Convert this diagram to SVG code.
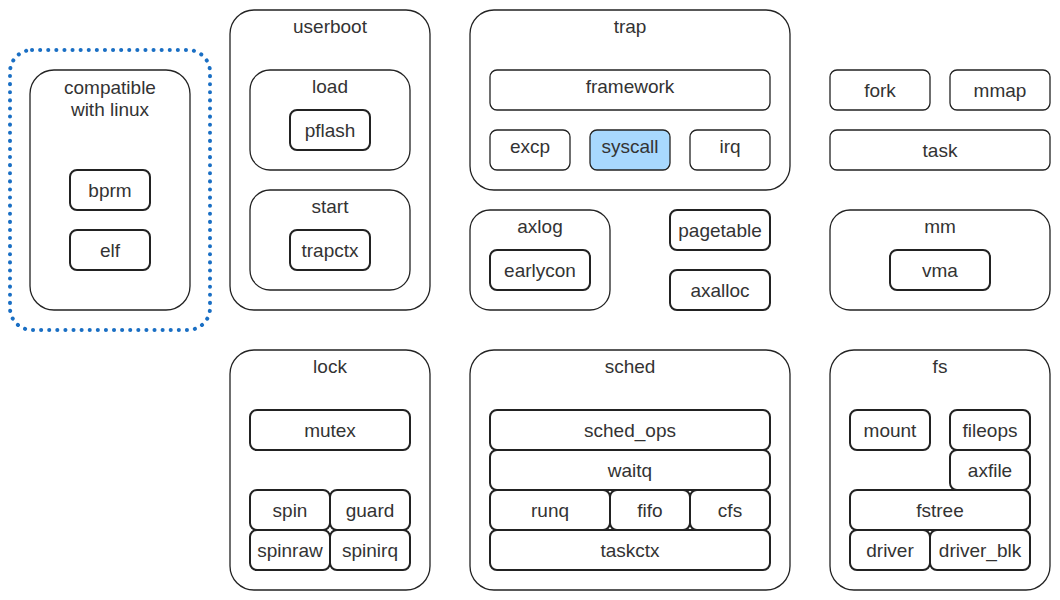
<svg xmlns="http://www.w3.org/2000/svg" width="1060" height="600" viewBox="0 0 1060 600">
<style>
.c{fill:#fff;stroke:#222;stroke-width:1.3}
.b{fill:#fff;stroke:#222;stroke-width:2}
.hl{fill:#a8d8fe}
text{font-family:"Liberation Sans",Arial,sans-serif;font-size:19px;fill:#333;text-anchor:middle;dominant-baseline:central}
</style>
<rect width="1060" height="600" fill="#fff"/>
<g id="compat-group">
<rect x="10" y="50" width="200" height="280" rx="22" fill="none" stroke="#1a6fc4" stroke-width="4" stroke-dasharray="0.1 8" stroke-linecap="round"/>
</g>
<g id="compatible">
<rect class="c" x="30" y="70" width="160" height="240" rx="24"/>
<text x="110" y="87">compatible</text><text x="110" y="109">with linux</text>
</g>
<g id="bprm"><rect class="b" x="70" y="170" width="80" height="40" rx="7"/><text x="110" y="190">bprm</text></g>
<g id="elf"><rect class="b" x="70" y="230" width="80" height="40" rx="7"/><text x="110" y="250">elf</text></g>

<g id="userboot"><rect class="c" x="230" y="10" width="200" height="300" rx="24"/><text x="330" y="26">userboot</text></g>
<g id="load"><rect class="c" x="250" y="70" width="160" height="100" rx="20"/><text x="330" y="86">load</text></g>
<g id="pflash"><rect class="b" x="290" y="110" width="80" height="40" rx="7"/><text x="330" y="130">pflash</text></g>
<g id="start"><rect class="c" x="250" y="190" width="160" height="100" rx="20"/><text x="330" y="206">start</text></g>
<g id="trapctx"><rect class="b" x="290" y="230" width="80" height="40" rx="7"/><text x="330" y="250">trapctx</text></g>

<g id="trap"><rect class="c" x="470" y="10" width="320" height="180" rx="24"/><text x="630" y="26">trap</text></g>
<g id="framework"><rect class="c" x="490" y="70" width="280" height="40" rx="7"/><text x="630" y="86">framework</text></g>
<g id="excp"><rect class="c" x="490" y="130" width="80" height="40" rx="7"/><text x="530" y="146">excp</text></g>
<g id="syscall"><rect class="c hl" x="590" y="130" width="80" height="40" rx="7"/><text x="630" y="146">syscall</text></g>
<g id="irq"><rect class="c" x="690" y="130" width="80" height="40" rx="7"/><text x="730" y="146">irq</text></g>

<g id="axlog"><rect class="c" x="470" y="210" width="140" height="100" rx="20"/><text x="540" y="226">axlog</text></g>
<g id="earlycon"><rect class="b" x="490" y="250" width="100" height="40" rx="7"/><text x="540" y="270">earlycon</text></g>
<g id="pagetable"><rect class="b" x="670" y="210" width="100" height="40" rx="7"/><text x="720" y="230">pagetable</text></g>
<g id="axalloc"><rect class="b" x="670" y="270" width="100" height="40" rx="7"/><text x="720" y="290">axalloc</text></g>

<g id="fork"><rect class="c" x="830" y="70" width="100" height="40" rx="7"/><text x="880" y="90">fork</text></g>
<g id="mmap"><rect class="c" x="950" y="70" width="100" height="40" rx="7"/><text x="1000" y="90">mmap</text></g>
<g id="task"><rect class="c" x="830" y="130" width="220" height="40" rx="7"/><text x="940" y="150">task</text></g>
<g id="mm"><rect class="c" x="830" y="210" width="220" height="100" rx="20"/><text x="940" y="226">mm</text></g>
<g id="vma"><rect class="b" x="890" y="250" width="100" height="40" rx="7"/><text x="940" y="270">vma</text></g>

<g id="lock"><rect class="c" x="230" y="350" width="200" height="240" rx="24"/><text x="330" y="366">lock</text></g>
<g id="mutex"><rect class="b" x="250" y="410" width="160" height="40" rx="7"/><text x="330" y="430">mutex</text></g>
<g id="spin"><rect class="b" x="250" y="490" width="80" height="40" rx="7"/><text x="290" y="510">spin</text></g>
<g id="guard"><rect class="b" x="330" y="490" width="80" height="40" rx="7"/><text x="370" y="510">guard</text></g>
<g id="spinraw"><rect class="b" x="250" y="530" width="80" height="40" rx="7"/><text x="290" y="550">spinraw</text></g>
<g id="spinirq"><rect class="b" x="330" y="530" width="80" height="40" rx="7"/><text x="370" y="550">spinirq</text></g>

<g id="sched"><rect class="c" x="470" y="350" width="320" height="240" rx="24"/><text x="630" y="366">sched</text></g>
<g id="sched_ops"><rect class="b" x="490" y="410" width="280" height="40" rx="7"/><text x="630" y="430">sched_ops</text></g>
<g id="waitq"><rect class="b" x="490" y="450" width="280" height="40" rx="7"/><text x="630" y="470">waitq</text></g>
<g id="runq"><rect class="b" x="490" y="490" width="120" height="40" rx="7"/><text x="550" y="510">runq</text></g>
<g id="fifo"><rect class="b" x="610" y="490" width="80" height="40" rx="7"/><text x="650" y="510">fifo</text></g>
<g id="cfs"><rect class="b" x="690" y="490" width="80" height="40" rx="7"/><text x="730" y="510">cfs</text></g>
<g id="taskctx"><rect class="b" x="490" y="530" width="280" height="40" rx="7"/><text x="630" y="550">taskctx</text></g>

<g id="fs"><rect class="c" x="830" y="350" width="220" height="240" rx="24"/><text x="940" y="366">fs</text></g>
<g id="mount"><rect class="b" x="850" y="410" width="80" height="40" rx="7"/><text x="890" y="430">mount</text></g>
<g id="fileops"><rect class="b" x="950" y="410" width="80" height="40" rx="7"/><text x="990" y="430">fileops</text></g>
<g id="axfile"><rect class="b" x="950" y="450" width="80" height="40" rx="7"/><text x="990" y="470">axfile</text></g>
<g id="fstree"><rect class="b" x="850" y="490" width="180" height="40" rx="7"/><text x="940" y="510">fstree</text></g>
<g id="driver"><rect class="b" x="850" y="530" width="80" height="40" rx="7"/><text x="890" y="550">driver</text></g>
<g id="driver_blk"><rect class="b" x="930" y="530" width="100" height="40" rx="7"/><text x="980" y="550">driver_blk</text></g>
<g id="connectors"></g>
</svg>
